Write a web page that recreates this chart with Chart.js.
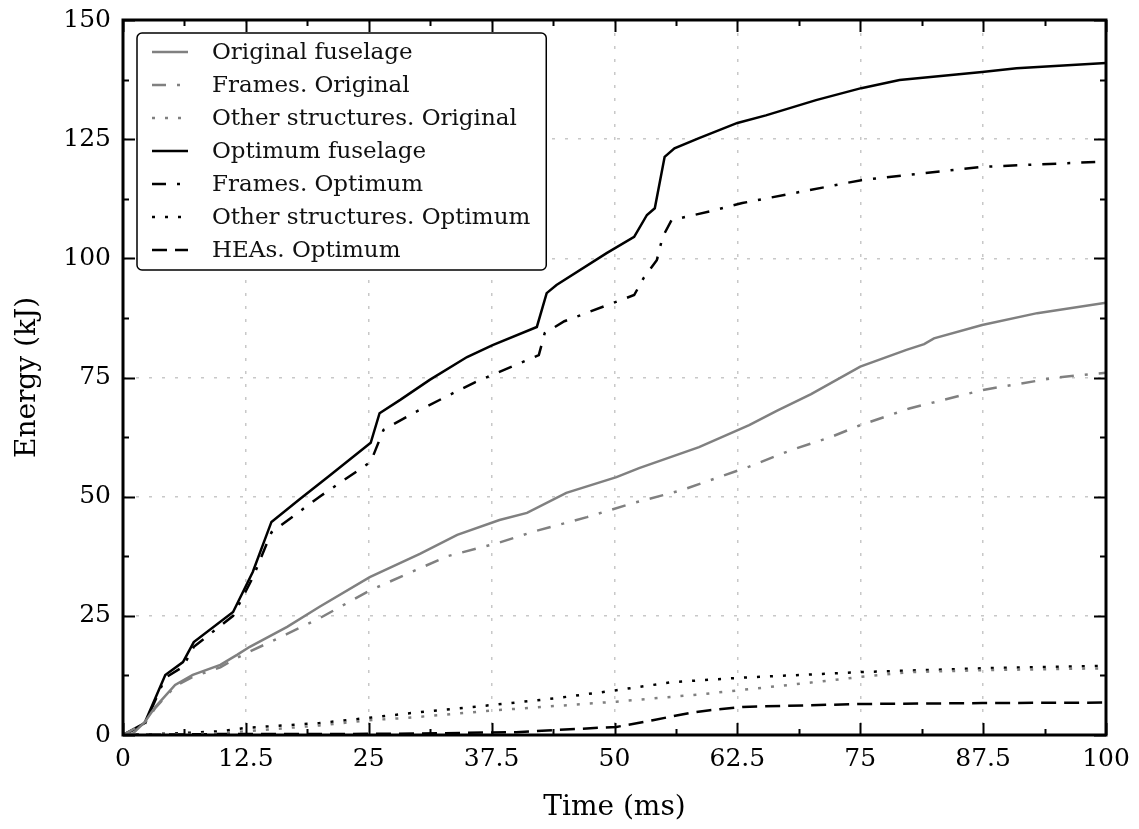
<!DOCTYPE html>
<html>
<head>
<meta charset="utf-8">
<script src="https://cdn.jsdelivr.net/npm/chart.js@4.4.1/dist/chart.umd.min.js"></script>
<style>
  html, body { margin: 0; padding: 0; background: #fff; }
  #wrap { width: 1139px; height: 829px; }
</style>
</head>
<body>
<div id="wrap"><canvas id="energyChart" width="1139" height="829"></canvas></div>
<script>
// Energía absorbida vs tiempo: fuselaje original y optimizado

// --- datos (tiempo en ms, energía en kJ) ---
const tOrigFus = [0, 1, 2.2, 3.3, 5.3, 7.1, 9.9, 11.6, 12.9, 16.7, 20, 25.1, 30.2, 34, 38.3, 41.1, 45.1, 50.2, 52.5, 58.6, 63.7, 66.5, 70, 75, 79.7, 81.5, 82.5, 87.4, 93, 100];
const origFuselage = [0, 0.3, 2.7, 5.9, 10.5, 12.6, 14.7, 16.8, 18.5, 22.7, 26.9, 33.1, 38, 42, 45.1, 46.6, 50.8, 54.1, 56, 60.4, 65, 68, 71.5, 77.3, 80.8, 82, 83.2, 86, 88.5, 90.7];

const tOrigFrames = [0, 2.2, 3.3, 5.3, 7.1, 9.9, 11.6, 12.9, 16.7, 20, 25.1, 28.9, 33, 38, 42, 47.2, 51.8, 56.9, 63.7, 68, 72, 75, 80, 87.5, 95, 100];
const origFrames = [0, 2.5, 5.7, 10.2, 12.2, 14.2, 16.2, 17.5, 21.2, 24.5, 30.3, 33.8, 37.5, 40.2, 42.8, 45.7, 48.6, 51.4, 56.3, 59.8, 62.5, 65, 68.5, 72.4, 75, 76];

const tOrigOther = [0, 5, 10, 12.5, 20, 25, 28.9, 38, 50.2, 58.6, 62.7, 70, 75.1, 80, 87.5, 100];
const origOther = [0, 0.1, 0.4, 0.8, 2, 3.1, 3.6, 5.2, 7, 8.5, 9.4, 11, 12.2, 13.2, 13.6, 14];

const tOptFus = [0, 2.2, 4.3, 6.1, 7.2, 11.2, 13.2, 15.1, 18, 21, 25.2, 26.1, 28.2, 31.2, 35, 37.6, 42.1, 43.1, 44.1, 49.2, 52, 53.3, 54.1, 55.1, 56.1, 58.6, 62.5, 65.4, 70.5, 75.1, 79, 87.4, 90.9, 100];
const optFuselage = [0, 2.5, 12.6, 15.3, 19.5, 25.8, 34.2, 44.7, 49.5, 54.4, 61.3, 67.5, 70.3, 74.5, 79.3, 81.8, 85.6, 92.7, 94.4, 101.1, 104.5, 109.1, 110.5, 121.3, 123.1, 125.2, 128.4, 130, 133.2, 135.7, 137.4, 139.1, 139.9, 141];

const tOptFrames = [0, 2.2, 4.3, 6.1, 7.2, 11.2, 13.2, 15.1, 20, 25.2, 26.5, 29.5, 35.8, 42.3, 42.9, 44.9, 52, 53, 54.3, 54.9, 55.8, 60.2, 63, 75.1, 87.4, 100];
const optFrames = [0, 2.2, 12, 14.3, 18.5, 25, 33, 42.5, 50, 57.3, 64, 67.5, 74, 79.7, 84.3, 86.8, 92.3, 96, 99.6, 104.5, 108, 110.1, 111.6, 116.4, 119.2, 120.3];

const tOptOther = [0, 5, 10, 12.5, 20, 25, 30.2, 37.6, 44, 50.2, 55.9, 62.7, 75.1, 87.4, 100];
const optOther = [0, 0.3, 0.8, 1.5, 2.5, 3.6, 4.8, 6.3, 7.7, 9.4, 11.1, 12, 13.2, 14, 14.5];

const tHeas = [0, 10, 20, 30, 40, 43.7, 50.2, 53.9, 57.6, 59.7, 63, 75.1, 87.4, 100];
const optHeas = [0, 0.2, 0.2, 0.3, 0.6, 1, 1.7, 3.1, 4.6, 5.2, 5.9, 6.5, 6.7, 6.8];

const seriesLabels = ['Original fuselage', 'Frames. Original', 'Other structures. Original',
    'Optimum fuselage', 'Frames. Optimum', 'Other structures. Optimum', 'HEAs. Optimum'];

const xTickStep = 12.5;
const yTickStep = 25;

// --- estilos ---
const GRAY = '#808080';
const BLACK = '#000000';
const SOLID = [];
const DASHDOT = [14, 11, 3, 11];
const DOTTED = [3, 10];
const DASHED = [15, 8];
const FONT = '"DejaVu Serif", serif';

function pts(xs, ys) {
    return xs.map((x, i) => ({ x: x, y: ys[i] }));
}

function makeSet(label, xs, ys, color, dash) {
    return {
        label: label,
        data: pts(xs, ys),
        borderColor: color,
        borderWidth: 2.5,
        borderDash: dash,
        borderCapStyle: 'butt',
        pointRadius: 0,
        tension: 0,
        fill: false
    };
}

// marco, ticks hacia adentro y leyenda dentro del área
const framePlugin = {
    id: 'frame',
    afterDraw(chart) {
        const ctx = chart.ctx;
        const a = chart.chartArea;
        const xs = chart.scales.x;
        const ys = chart.scales.y;
        ctx.save();
        ctx.strokeStyle = BLACK;

        // ticks
        ctx.lineWidth = 2;
        for (let v = 0; v <= 100 + 1e-6; v += xTickStep / 2) {
            const px = Math.round(xs.getPixelForValue(v)) + 0.5;
            const len = (Math.abs(v / xTickStep - Math.round(v / xTickStep)) < 1e-6) ? 12 : 6;
            ctx.beginPath();
            ctx.moveTo(px, a.bottom); ctx.lineTo(px, a.bottom - len);
            ctx.moveTo(px, a.top); ctx.lineTo(px, a.top + len);
            ctx.stroke();
        }
        for (let v = 0; v <= 150 + 1e-6; v += yTickStep / 2) {
            const py = Math.round(ys.getPixelForValue(v)) + 0.5;
            const len = (v % yTickStep === 0) ? 12 : 6;
            ctx.beginPath();
            ctx.moveTo(a.left, py); ctx.lineTo(a.left + len, py);
            ctx.moveTo(a.right, py); ctx.lineTo(a.right - len, py);
            ctx.stroke();
        }

        // marco
        ctx.lineWidth = 3;
        ctx.strokeRect(a.left, a.top, a.right - a.left, a.bottom - a.top);

        // leyenda
        ctx.font = '23px ' + FONT;
        const sets = chart.data.datasets;
        let maxW = 0;
        sets.forEach(d => { maxW = Math.max(maxW, ctx.measureText(d.label).width); });
        const bx = a.left + 14, by = a.top + 13;
        const rowH = 33;
        const bw = 15 + 36 + 24 + maxW + 16;
        const bh = sets.length * rowH + 6;
        ctx.beginPath();
        ctx.roundRect(bx, by, bw, bh, 5);
        ctx.fillStyle = '#ffffff';
        ctx.fill();
        ctx.lineWidth = 1.5;
        ctx.strokeStyle = BLACK;
        ctx.stroke();
        ctx.textBaseline = 'middle';
        sets.forEach((d, i) => {
            const cy = by + 19 + i * rowH;
            ctx.beginPath();
            ctx.setLineDash(d.borderDash);
            ctx.lineCap = 'butt';
            ctx.lineWidth = d.borderWidth;
            ctx.strokeStyle = d.borderColor;
            ctx.moveTo(bx + 15, cy);
            ctx.lineTo(bx + 51, cy);
            ctx.stroke();
            ctx.setLineDash([]);
            ctx.fillStyle = '#111';
            ctx.fillText(d.label, bx + 75, cy + 1);
        });
        ctx.restore();
    }
};

function initChart() {
    const canvas = document.getElementById('energyChart');
    new Chart(canvas, {
        type: 'line',
        data: {
            datasets: [
                makeSet(seriesLabels[0], tOrigFus, origFuselage, GRAY, SOLID),
                makeSet(seriesLabels[1], tOrigFrames, origFrames, GRAY, DASHDOT),
                makeSet(seriesLabels[2], tOrigOther, origOther, GRAY, DOTTED),
                makeSet(seriesLabels[3], tOptFus, optFuselage, BLACK, SOLID),
                makeSet(seriesLabels[4], tOptFrames, optFrames, BLACK, DASHDOT),
                makeSet(seriesLabels[5], tOptOther, optOther, BLACK, DOTTED),
                makeSet(seriesLabels[6], tHeas, optHeas, BLACK, DASHED)
            ]
        },
        options: {
            responsive: false,
            animation: false,
            events: [],
            layout: { padding: { top: 20, right: 33, left: 0, bottom: 0 } },
            plugins: {
                legend: { display: false },
                tooltip: { enabled: false }
            },
            scales: {
                x: {
                    type: 'linear',
                    min: 0,
                    max: 100,
                    afterFit(scale) {
                        scale.height = 94;
                        scale.paddingLeft = 0;
                        scale.paddingRight = 0;
                    },
                    ticks: {
                        stepSize: xTickStep,
                        color: '#000',
                        padding: 9,
                        maxRotation: 0,
                        font: { family: FONT, size: 25 }
                    },
                    grid: { color: '#c8c8c8', lineWidth: 1.5, drawTicks: false },
                    border: { display: false, dash: DOTTED },
                    title: {
                        display: true,
                        text: 'Time (ms)',
                        color: '#000',
                        font: { family: FONT, size: 28 },
                        padding: { top: 0, bottom: 4 }
                    }
                },
                y: {
                    min: 0,
                    max: 150,
                    afterFit(scale) {
                        scale.width = 123;
                        scale.paddingTop = 0;
                        scale.paddingBottom = 0;
                    },
                    ticks: {
                        stepSize: yTickStep,
                        color: '#000',
                        padding: 12,
                        font: { family: FONT, size: 25 }
                    },
                    grid: { color: '#c8c8c8', lineWidth: 1.5, drawTicks: false },
                    border: { display: false, dash: DOTTED },
                    title: {
                        display: true,
                        text: 'Energy (kJ)',
                        color: '#000',
                        font: { family: FONT, size: 28 },
                        padding: { top: 11, bottom: 0 }
                    }
                }
            }
        },
        plugins: [framePlugin]
    });
}

document.addEventListener('DOMContentLoaded', initChart);
</script>
</body>
</html>
